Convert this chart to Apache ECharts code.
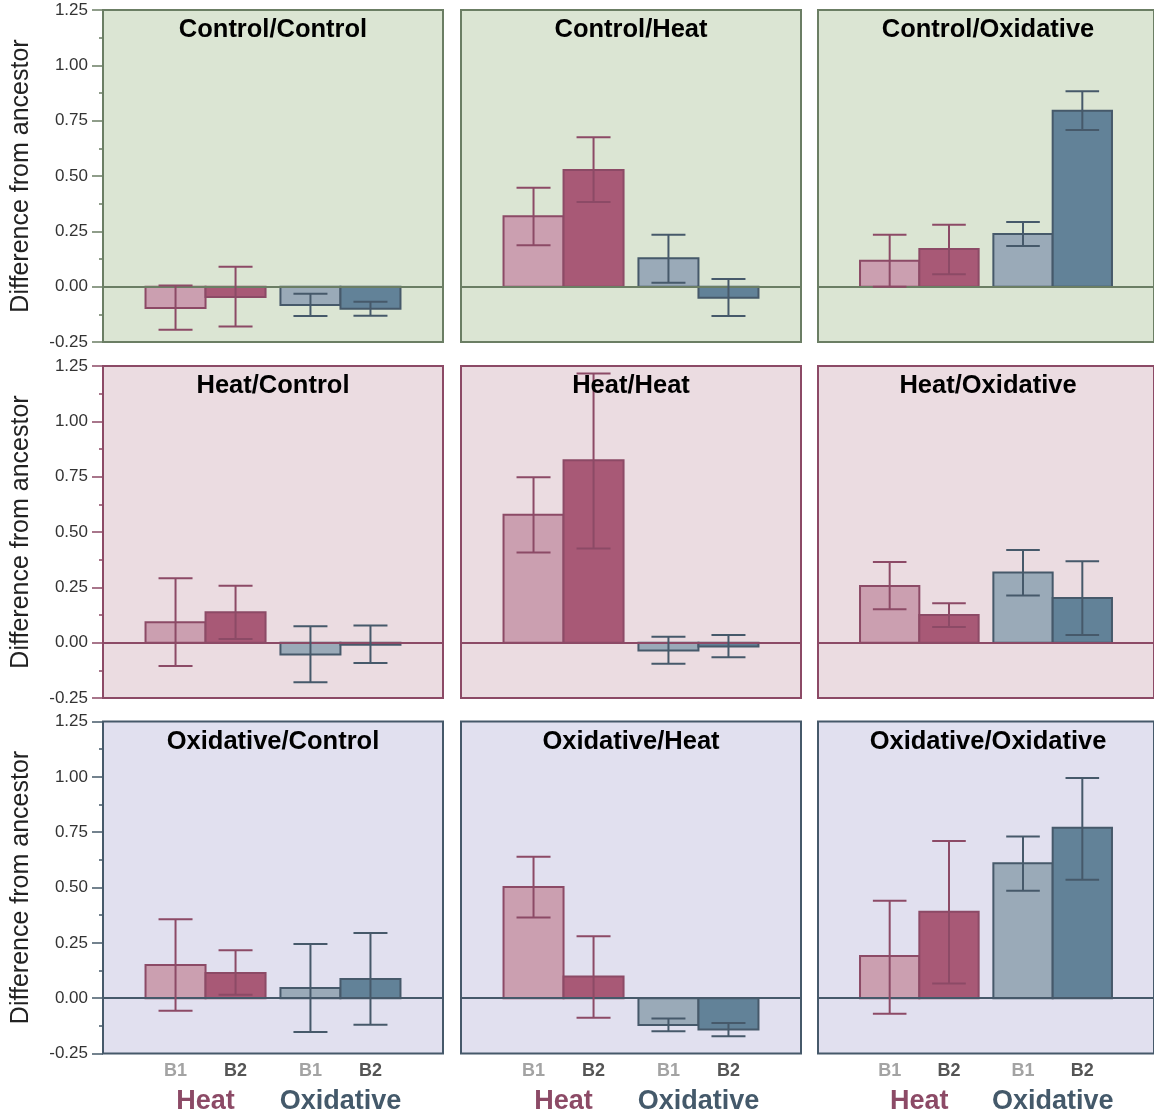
<!DOCTYPE html>
<html><head><meta charset="utf-8">
<script src="https://cdn.jsdelivr.net/npm/echarts@6/dist/echarts.min.js"></script>
<style>html,body{margin:0;padding:0;background:#fff}#c{width:1154px;height:1118px}</style>
</head><body><div id="c"></div>
<script>
// ---- data ----
const panelTitles = ['Control/Control','Control/Heat','Control/Oxidative',
                     'Heat/Control','Heat/Heat','Heat/Oxidative',
                     'Oxidative/Control','Oxidative/Heat','Oxidative/Oxidative'];
const groupNames = ['Heat','Oxidative'];
const batchNames = ['B1','B2'];
const yTicks = [-0.25, 0, 0.25, 0.5, 0.75, 1.0, 1.25];
// means and 95% interval ends, one value per panel (order as panelTitles)
const meanHeatB1 = [-0.096, 0.318, 0.117, 0.092, 0.578, 0.256, 0.150, 0.502, 0.190];
const lowHeatB1  = [-0.195, 0.187, 0.000,-0.105, 0.407, 0.151,-0.057, 0.364,-0.070];
const highHeatB1 = [ 0.005, 0.447, 0.235, 0.291, 0.747, 0.365, 0.356, 0.639, 0.440];
const meanHeatB2 = [-0.047, 0.527, 0.170, 0.137, 0.824, 0.125, 0.114, 0.098, 0.390];
const lowHeatB2  = [-0.180, 0.382, 0.056, 0.017, 0.425, 0.071, 0.015,-0.089, 0.066];
const highHeatB2 = [ 0.090, 0.675, 0.280, 0.257, 1.216, 0.178, 0.216, 0.280, 0.710];
const meanOxB1   = [-0.083, 0.128, 0.238,-0.053,-0.035, 0.317, 0.046,-0.121, 0.610];
const lowOxB1    = [-0.132, 0.018, 0.184,-0.179,-0.095, 0.213,-0.153,-0.149, 0.485];
const highOxB1   = [-0.032, 0.235, 0.292, 0.074, 0.027, 0.419, 0.245,-0.092, 0.730];
const meanOxB2   = [-0.100,-0.050, 0.795,-0.009,-0.017, 0.202, 0.087,-0.142, 0.770];
const lowOxB2    = [-0.131,-0.132, 0.708,-0.092,-0.066, 0.035,-0.120,-0.172, 0.535];
const highOxB2   = [-0.068, 0.035, 0.883, 0.077, 0.035, 0.368, 0.294,-0.112, 0.995];

// ---- styles ----
const FONT = '"Liberation Sans", Arial, Helvetica, sans-serif';
const rowBg = ['#dbe5d3', '#ebdce1', '#e1e0ef'];
const rowLine = ['#6b7e64', '#8c4a66', '#46596a'];
const barFill = ['#cb9fb0', '#a85976', '#9aaab8', '#628298'];
const barStroke = ['#8c4a66', '#8c4a66', '#46596a', '#46596a'];
const gridLeft = [103, 461, 818];
const gridTop = [10, 366, 721.5];
const GW = 340, GH = 332;
const XMIN = 0.24, XMAX = 2.76;
const OFF = 0.2224, HALF = 0.2224, CAP = 0.126;

const meansAll = [meanHeatB1, meanHeatB2, meanOxB1, meanOxB2];
const lowsAll = [lowHeatB1, lowHeatB2, lowOxB1, lowOxB2];
const highsAll = [highHeatB1, highHeatB2, highOxB1, highOxB2];
const barX = [1 - OFF, 1 + OFF, 2 - OFF, 2 + OFF];

const grids = [], xAxes = [], yAxes = [], series = [], graphics = [];
let xi = 0;
for (let p = 0; p < 9; p++) {
  const r = Math.floor(p / 3), c = p % 3;
  grids.push({left: gridLeft[c], top: gridTop[r], width: GW, height: GH, show: true,
    backgroundColor: rowBg[r], borderColor: rowLine[r], borderWidth: 2, containLabel: false});
  const bottom = r === 2;
  xAxes.push({type: 'value', gridIndex: p, min: XMIN, max: XMAX, position: 'bottom',
    axisLine: {show: false}, axisTick: {show: false}, splitLine: {show: false},
    axisLabel: bottom ? {show: true, customValues: barX, margin: 9,
      formatter: (v) => { const b = (Math.abs(v - 1 - OFF) < 0.01 || Math.abs(v - 2 - OFF) < 0.01) ? 1 : 0;
        return '{b' + b + '|' + batchNames[b] + '}'; },
      rich: {b0: {color: '#a3a3a3', fontSize: 18, fontWeight: 'bold', fontFamily: FONT},
             b1: {color: '#555555', fontSize: 18, fontWeight: 'bold', fontFamily: FONT}}} : {show: false}
  });
  const xMain = xi++;
  if (bottom) {
    xAxes.push({type: 'value', gridIndex: p, min: XMIN, max: XMAX, position: 'bottom',
      axisLine: {show: false}, axisTick: {show: false}, splitLine: {show: false},
      axisLabel: {show: true, customValues: [1, 2], margin: 35,
        formatter: (v) => (v < 1.5 ? '{h|' + groupNames[0] + '}' : '{o|' + groupNames[1] + '}'),
        rich: {h: {color: '#8c4a66', fontSize: 27, fontWeight: 'bold', fontFamily: FONT},
               o: {color: '#44596a', fontSize: 27, fontWeight: 'bold', fontFamily: FONT}}}
    });
    xi++;
  }
  const left = c === 0;
  yAxes.push({type: 'value', gridIndex: p, min: -0.25, max: 1.25, interval: 0.25,
    axisLine: {show: false}, splitLine: {show: false},
    axisTick: {show: left, length: 11, lineStyle: {color: rowLine[r], width: 1.5}},
    minorTick: {show: left, splitNumber: 2, length: 4, lineStyle: {color: rowLine[r], width: 1.5}},
    axisLabel: {show: left, margin: 15, color: '#333', fontSize: 17, fontFamily: FONT,
      formatter: (v) => v.toFixed(2)},
    name: left ? 'Difference from ancestor' : '', nameLocation: 'middle', nameGap: 69, nameRotate: 90,
    nameTextStyle: {fontSize: 25, color: '#222', fontFamily: FONT}
  });
  const data = [];
  for (let k = 0; k < 4; k++) data.push([barX[k], meansAll[k][p], lowsAll[k][p], highsAll[k][p], k]);
  series.push({type: 'custom', xAxisIndex: xMain, yAxisIndex: p, data: data, z: 2, silent: true,
    renderItem: (params, api) => {
      const x = api.value(0), v = api.value(1), k = api.value(4);
      const a = api.coord([x - HALF, 0]), b = api.coord([x + HALF, v]);
      return {type: 'rect', shape: {x: a[0], y: Math.min(a[1], b[1]), width: b[0] - a[0], height: Math.abs(b[1] - a[1])},
        style: {fill: barFill[k], stroke: barStroke[k], lineWidth: 2}};
    },
    markLine: {silent: true, symbol: 'none', label: {show: false},
      lineStyle: {color: rowLine[r], width: 2, type: 'solid'}, data: [{yAxis: 0}], z: 3}
  });
  series.push({type: 'custom', xAxisIndex: xMain, yAxisIndex: p, data: data, z: 4, silent: true,
    renderItem: (params, api) => {
      const x = api.value(0), lo = api.value(2), hi = api.value(3), k = api.value(4);
      const t = api.coord([x, hi]), bt = api.coord([x, lo]);
      const cl = api.coord([x - CAP, hi]), cr = api.coord([x + CAP, hi]);
      const dl = api.coord([x - CAP, lo]), dr = api.coord([x + CAP, lo]);
      const st = {stroke: barStroke[k], lineWidth: 2};
      return {type: 'group', children: [
        {type: 'line', shape: {x1: t[0], y1: t[1], x2: bt[0], y2: bt[1]}, style: st},
        {type: 'line', shape: {x1: cl[0], y1: cl[1], x2: cr[0], y2: cr[1]}, style: st},
        {type: 'line', shape: {x1: dl[0], y1: dl[1], x2: dr[0], y2: dr[1]}, style: st}
      ]};
    }
  });
  graphics.push({type: 'text', x: gridLeft[c] + GW / 2, y: gridTop[r] + 20, z: 100,
    style: {text: panelTitles[p], textAlign: 'center', textVerticalAlign: 'middle',
      font: 'bold 25.5px ' + FONT, fill: '#000'}});
}

const chart = echarts.init(document.getElementById('c'), null, {renderer: 'canvas'});
chart.setOption({animation: false, backgroundColor: '#fff',
  grid: grids, xAxis: xAxes, yAxis: yAxes, series: series, graphic: graphics});
</script></body></html>
